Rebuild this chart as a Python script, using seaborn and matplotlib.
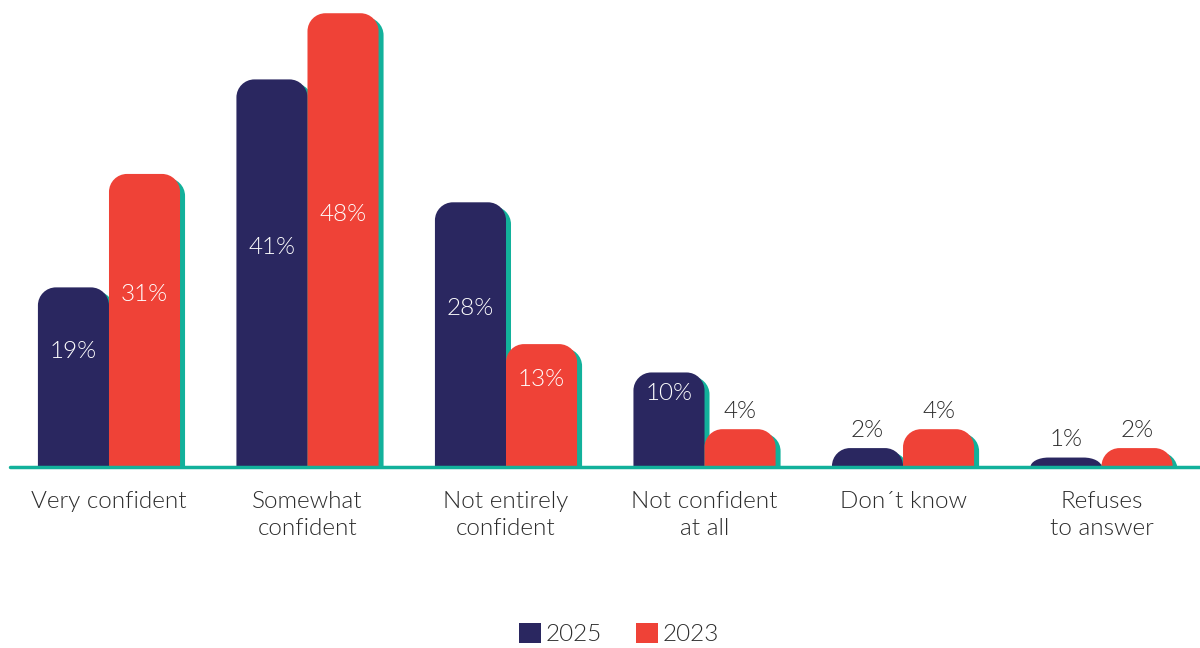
import matplotlib
matplotlib.use("Agg")
import matplotlib.pyplot as plt
import matplotlib.transforms as mtransforms
from matplotlib.path import Path
from matplotlib.patches import PathPatch, Patch
import seaborn as sns
import pandas as pd

categories = ["Very confident", "Somewhat\nconfident", "Not entirely\nconfident",
              "Not confident\nat all", "Don´t know", "Refuses\nto answer"]
values_2025 = [19, 41, 28, 10, 2, 1]
values_2023 = [31, 48, 13, 4, 4, 2]
years = ["2025", "2023"]

NAVY = "#2a2760"
RED = "#ef4237"
TEAL = "#12b19b"
TEXT = "#2b2b2b"
FS = 17.5

sns.set_theme(style="white")
plt.rcParams["font.family"] = ["Lato", "DejaVu Sans"]
plt.rcParams["font.weight"] = 300

df = pd.DataFrame({
    "category": categories * 2,
    "year": [years[0]] * len(categories) + [years[1]] * len(categories),
    "value": values_2025 + values_2023,
})

W, H, DPI = 1200, 648, 100
fig = plt.figure(figsize=(W / DPI, H / DPI), dpi=DPI)
base_px = 467
ax = fig.add_axes([0, (H - base_px) / H, 1, base_px / H])

sns.barplot(data=df, x="category", y="value", hue="year", hue_order=years,
            palette=[NAVY, RED], width=0.716, gap=0, saturation=1,
            legend=False, ax=ax)

xlim = (-0.549, 5.496)
ylim = (0, 49.4)
ax.set_xlim(*xlim)
ax.set_ylim(*ylim)

px_x = W / (xlim[1] - xlim[0])
px_y = base_px / (ylim[1] - ylim[0])

def rounded_top(x0, w, h, r_px=18):
    rx = min(r_px / px_x, w / 2)
    ry = min(r_px / px_y, h)
    k = 0.5523
    verts = [(x0, 0), (x0, h - ry), (x0, h - ry + k * ry), (x0 + rx - k * rx, h),
             (x0 + rx, h), (x0 + w - rx, h), (x0 + w - rx + k * rx, h),
             (x0 + w, h - ry + k * ry), (x0 + w, h - ry), (x0 + w, 0), (x0, 0)]
    codes = [Path.MOVETO, Path.LINETO, Path.CURVE4, Path.CURVE4, Path.CURVE4,
             Path.LINETO, Path.CURVE4, Path.CURVE4, Path.CURVE4, Path.LINETO,
             Path.CLOSEPOLY]
    return Path(verts, codes)

bars = [p for p in ax.patches]
shadow_tr = mtransforms.offset_copy(ax.transData, fig=fig, x=5, y=-4, units="dots")
geoms = []
for b in bars:
    x0, w, h = b.get_x(), b.get_width(), b.get_height()
    geoms.append((x0, w, h, b.get_facecolor()))
    b.set_visible(False)

# teal drop shadows behind every bar
for x0, w, h, c in geoms:
    ax.add_patch(PathPatch(rounded_top(x0, w, h), facecolor=TEAL, edgecolor="none",
                           transform=shadow_tr, zorder=2))
for x0, w, h, c in geoms:
    ax.add_patch(PathPatch(rounded_top(x0, w, h), facecolor=c, edgecolor="none", zorder=3))
    xc = x0 + w / 2
    if h >= 10:
        ax.text(xc, h / 2 + 26 / px_y, f"{h:.0f}%", ha="center", va="center",
                color="white", fontsize=FS, zorder=5)
    else:
        ax.text(xc, h + 18 / px_y, f"{h:.0f}%", ha="center", va="center",
                color=TEXT, fontsize=FS, zorder=5)

# baseline
ax.axhline(0, xmin=10 / W, xmax=1, color=TEAL, lw=2.5, zorder=4, clip_on=False)

for s in ax.spines.values():
    s.set_visible(False)
ax.set_yticks([])
ax.set_xlabel("")
ax.set_ylabel("")
ax.tick_params(axis="x", length=0, pad=17, labelsize=FS, labelcolor=TEXT)
for t in ax.get_xticklabels():
    t.set_linespacing(1.38)
    t.set_va("top")

handles = [Patch(facecolor=NAVY, edgecolor="none", label=years[0]),
           Patch(facecolor=RED, edgecolor="none", label=years[1])]
fig.legend(handles=handles, loc="center", bbox_to_anchor=(0.516, 1 - 634 / H),
           ncol=2, frameon=False, fontsize=FS, handlelength=0.9, handleheight=0.9,
           handletextpad=0.2, columnspacing=1.4, labelcolor=TEXT)

fig.savefig("out.png", dpi=DPI)
